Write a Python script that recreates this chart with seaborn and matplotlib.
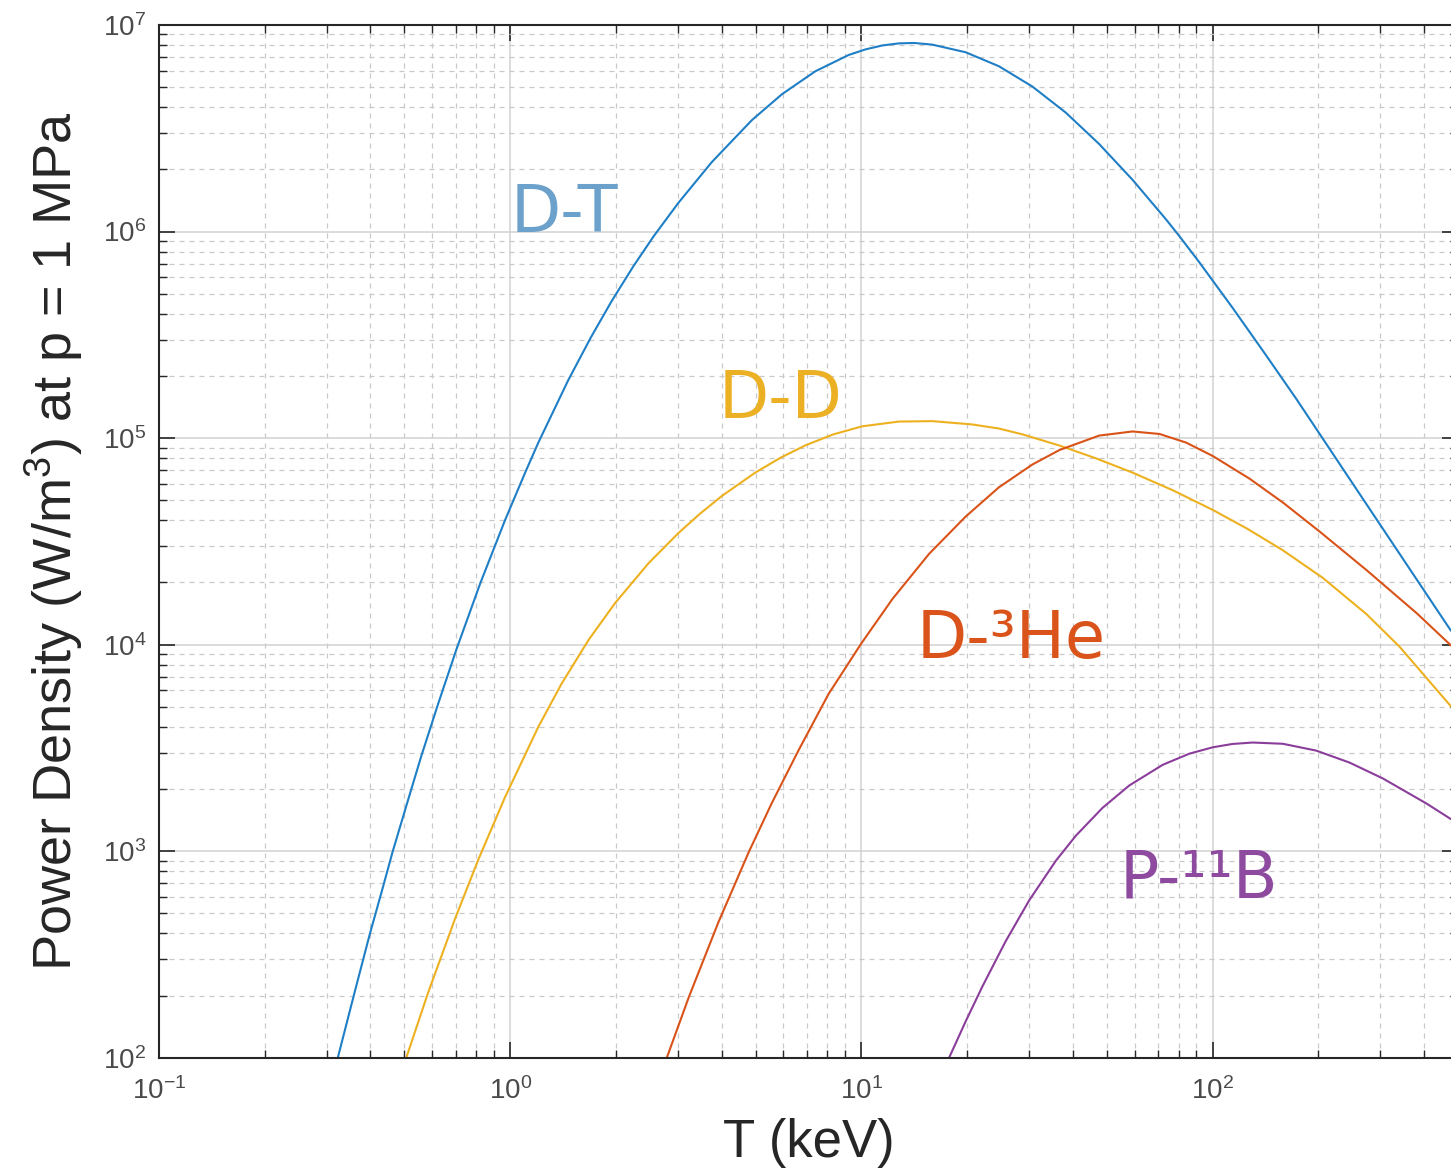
import numpy as np
import pandas as pd
import matplotlib
matplotlib.use("Agg")
import matplotlib.pyplot as plt
import seaborn as sns
from matplotlib.ticker import LogLocator, NullFormatter

# Temperatura (keV) y densidad de potencia (W/m^3)
T_DT = [0.323, 0.361, 0.398, 0.430, 0.463, 0.512, 0.558, 0.624, 0.703, 0.822,
        0.966, 1.102, 1.202, 1.462, 1.698, 1.945, 2.239, 2.559, 3.013, 3.750,
        4.875, 5.943, 7.396, 9.204, 10.28, 11.48, 12.79, 14.13, 15.92, 19.82,
        24.66, 30.69, 38.19, 47.53, 59.16, 73.62, 80.35, 91.62, 114.0, 141.9,
        173.0, 206.1, 245.5, 305.5, 380.2, 477.5]
P_DT = [100, 208.9, 394.5, 631.0, 997.7, 1770, 2877, 5188, 9484, 19820,
        39900, 67760, 94840, 190100, 307600, 460300, 676100, 946200, 1.377e6, 2.168e6,
        3.459e6, 4.624e6, 5.970e6, 7.161e6, 7.621e6, 7.962e6, 8.147e6, 8.185e6, 8.035e6, 7.379e6,
        6.310e6, 5.035e6, 3.767e6, 2.655e6, 1.782e6, 1.148e6, 952800, 711200, 427600, 252300,
        155200, 99310, 63530, 36390, 20840, 11670]

T_DD = [0.506, 0.583, 0.695, 0.811, 0.966, 1.202, 1.400, 1.671, 1.991, 2.477,
        3.013, 3.467, 4.009, 4.989, 5.888, 6.934, 8.318, 10.05, 12.79, 15.92,
        20.70, 24.66, 28.77, 36.64, 46.56, 59.16, 76.91, 100.2, 125.9, 158.5,
        206.1, 274.2, 341.2, 477.5]
P_DD = [100, 205.1, 465.6, 907.8, 1820, 3990, 6457, 10520, 15920, 24770,
        34670, 42950, 52480, 68080, 80350, 92260, 104200, 114000, 120200, 120800,
        116400, 111200, 104200, 92040, 79800, 68080, 55980, 44870, 36310, 28640,
        21040, 14060, 9750, 5023]

T_DHE3 = [2.793, 3.221, 3.917, 4.775, 5.559, 6.637, 8.072, 10.0, 12.25, 15.60,
          19.82, 24.66, 30.69, 36.64, 47.53, 59.16, 70.63, 84.14, 100.2, 127.6,
          158.9, 202.3, 274.8, 382.0, 477.5]
P_DHE3 = [100, 195.0, 452.9, 986.3, 1710, 3097, 5781, 10140, 16600, 27540,
          41690, 57810, 74470, 87500, 102800, 107650, 104700, 95060, 81850, 63530,
          48640, 35160, 22910, 14160, 9908]

T_PB11 = [17.78, 19.82, 22.13, 25.76, 30.06, 35.81, 40.83, 48.64, 57.94, 72.11,
          85.90, 100.2, 114.0, 130.0, 158.5, 197.2, 245.5, 305.5, 406.4, 477.5]
P_PB11 = [100, 150.0, 221.8, 366.4, 578.1, 899.5, 1189, 1622, 2080, 2618,
          2965, 3184, 3304, 3357, 3311, 3069, 2685, 2249, 1702, 1429]

REACTIONS = ["D-T", "D-D", "D-³He", "P-¹¹B"]
LINE_COLORS = ["#1f7fc6", "#EDB120", "#D95319", "#8a3d9a"]
TEXT_COLORS = ["#6ba1cb", "#ebb024", "#d9531a", "#8e4a9e"]
# posicion (T, P) de cada etiqueta, esquina inferior izquierda
LABEL_T = [1.0, 3.92, 14.4, 54.3]
LABEL_P = [1.0e6, 1.25e5, 8.6e3, 598]

sns.set_theme(style="white")
plt.rcParams["font.family"] = ["Liberation Sans", "DejaVu Sans"]
plt.rcParams["mathtext.fontset"] = "custom"
plt.rcParams["mathtext.rm"] = "Liberation Sans"
plt.rcParams["mathtext.it"] = "Liberation Sans:italic"
plt.rcParams["mathtext.bf"] = "Liberation Sans:bold"
plt.rcParams["axes.unicode_minus"] = False

frames = []
for name, T, P in zip(REACTIONS, [T_DT, T_DD, T_DHE3, T_PB11], [P_DT, P_DD, P_DHE3, P_PB11]):
    frames.append(pd.DataFrame({"T": T, "P": P, "reaccion": name}))
df = pd.concat(frames, ignore_index=True)

fig = plt.figure(figsize=(14.51, 11.68), dpi=100)
ax = fig.add_axes([159 / 1451, 110.3 / 1168, 1299 / 1451, 1032.7 / 1168])
ax.set_xscale("log")
ax.set_yscale("log")

sns.lineplot(data=df, x="T", y="P", hue="reaccion", palette=dict(zip(REACTIONS, LINE_COLORS)),
             estimator=None, sort=False, legend=False, linewidth=1.5, ax=ax)

ax.set_xlim(0.1, 500)
ax.set_ylim(1e2, 1e7)

for axis in (ax.xaxis, ax.yaxis):
    axis.set_major_locator(LogLocator(base=10, numticks=20))
    axis.set_minor_locator(LogLocator(base=10, subs=np.arange(2, 10), numticks=20))
    axis.set_minor_formatter(NullFormatter())

ax.grid(True, which="major", color="#d2d2d2", linewidth=1.1, linestyle="-")
ax.grid(True, which="minor", color="#c9c9c9", linewidth=0.9, linestyle=(0, (4, 4)))
ax.set_axisbelow(True)

ax.tick_params(which="both", direction="in", top=True, right=True, bottom=True, left=True,
               color="#262626", labelcolor="#4a4a4a")
ax.tick_params(which="major", length=11.5, width=1.2, labelsize=20)
ax.tick_params(which="minor", length=5.8, width=1.0)
ax.tick_params(axis="x", which="major", pad=14)
ax.tick_params(axis="y", which="major", pad=9)

for s in ax.spines.values():
    s.set_visible(True)
    s.set_color("#262626")
    s.set_linewidth(1.5)

ax.set_xlabel("T (keV)", fontsize=38, color="#262626")
ax.set_ylabel("Power Density (W/m$^3$) at p = 1 MPa", fontsize=39, color="#262626")
ax.xaxis.set_label_coords(0.5, -0.058)
ax.yaxis.set_label_coords(-0.057, 0.5)

for name, c, tx, py in zip(REACTIONS, TEXT_COLORS, LABEL_T, LABEL_P):
    ax.text(tx, py, name, color=c, fontsize=47, family=["DejaVu Sans"],
            ha="left", va="baseline")

fig.savefig("out.png", dpi=100)
